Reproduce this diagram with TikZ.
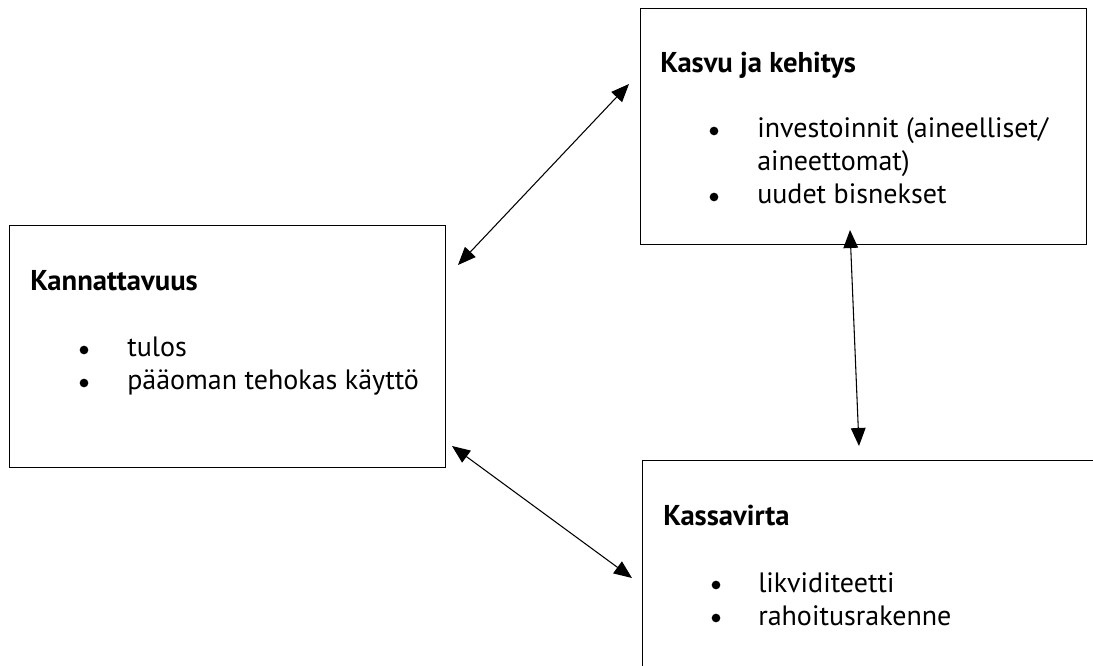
\documentclass[tikz,border=0pt]{standalone}
\usepackage{fontspec}
\setmainfont{PT Sans}
\usetikzlibrary{arrows.meta}
\begin{document}
\begin{tikzpicture}[x=0.75pt,y=-0.75pt,
  box/.style={draw, line width=0.8pt, rectangle, anchor=north west, inner sep=0pt},
  ttl/.style={anchor=base west, inner sep=0pt, font=\fontsize{21.5}{24}\selectfont\bfseries},
  itm/.style={anchor=base west, inner sep=0pt, font=\fontsize{21}{24}\selectfont},
  bul/.style={circle, fill, inner sep=0pt, minimum size=6.5pt},
  link/.style={line width=0.8pt, {Triangle[length=13.5pt,width=11pt]}-{Triangle[length=13.5pt,width=11pt]}}]
\useasboundingbox (0,0) rectangle (1093,666);
\clip (0,0) rectangle (1093,666);
\fill[white] (0,0) rectangle (1093,666);

% boxes
\node[box, minimum width=0.75pt*436, minimum height=0.75pt*242] (kann) at (9,225) {};
\node[box, minimum width=0.75pt*446, minimum height=0.75pt*236] (kasvu) at (640,8) {};
\node[box, minimum width=0.75pt*480, minimum height=0.75pt*240] (kassa) at (642,460) {};

% Kannattavuus
\node[ttl] (t1) at (30,291) {Kannattavuus};
\node[bul] (b11) at (84,350) {};
\node[itm] (i11) at (127,357) {tulos};
\node[bul] (b12) at (84,383) {};
\node[itm] (i12) at (127,390) {pääoman tehokas käyttö};

% Kasvu ja kehitys
\node[ttl] (t2) at (660,73) {Kasvu ja kehitys};
\node[bul] (b21) at (714,131) {};
\node[itm] (i21) at (757,138) {investoinnit (aineelliset/};
\node[itm] (i22) at (757,171) {aineettomat)};
\node[bul] (b23) at (714,197) {};
\node[itm] (i23) at (757,204) {uudet bisnekset};

% Kassavirta
\node[ttl] (t3) at (663,526) {Kassavirta};
\node[bul] (b31) at (716,585) {};
\node[itm] (i31) at (758,592) {likviditeetti};
\node[bul] (b32) at (716,618) {};
\node[itm] (i32) at (758,625) {rahoitusrakenne};

% connector end points
\coordinate (a1) at (458,265);
\coordinate (a2) at (629,84);
\coordinate (c1) at (850,230);
\coordinate (c2) at (859,446);
\coordinate (d1) at (452,446);
\coordinate (d2) at (632,578);

\draw[link] (a1) -- (a2);
\draw[link] (c1) -- (c2);
\draw[link] (d1) -- (d2);
\end{tikzpicture}
\end{document}
